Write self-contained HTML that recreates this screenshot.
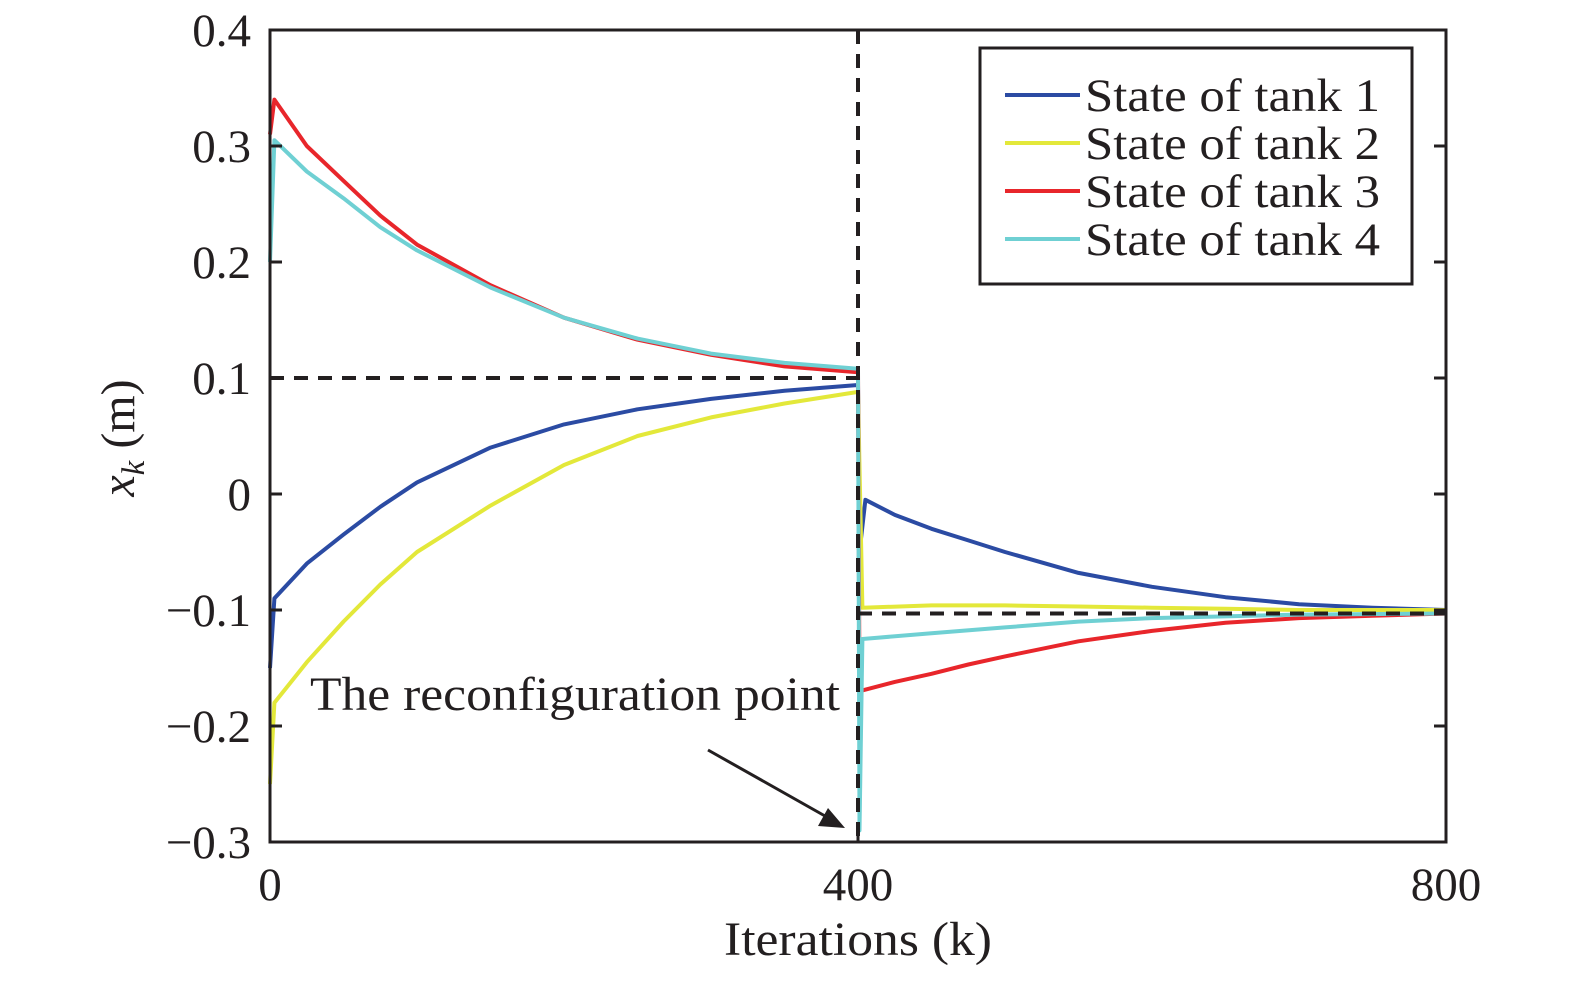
<!DOCTYPE html>
<html><head><meta charset="utf-8"><style>
html,body{margin:0;padding:0;background:#fff;}
svg text{font-family:"Liberation Serif",serif;fill:#231f20;}
</style></head><body>
<svg id="chart" width="1575" height="976" viewBox="0 0 1575 976" xmlns="http://www.w3.org/2000/svg"></svg>
<script>
const xTicks=[0,400,800];
const xTickLabels=["0","400","800"];
const yTicks=[0.4,0.3,0.2,0.1,0,-0.1,-0.2,-0.3];
const yTickLabels=["0.4","0.3","0.2","0.1","0","\u22120.1","\u22120.2","\u22120.3"];
const seriesNames=["State of tank 1","State of tank 2","State of tank 3","State of tank 4"];
const k1=[0,3,25,50,75,100,150,200,250,300,350,400,401,405,425,450,475,500,550,600,650,700,750,800];
const tank1=[-0.15,-0.09,-0.06,-0.035,-0.011,0.01,0.04,0.06,0.073,0.082,0.089,0.094,-0.05,-0.005,-0.018,-0.03,-0.04,-0.05,-0.068,-0.08,-0.089,-0.095,-0.098,-0.1];
const k2=[0,3,25,50,75,100,150,200,250,300,350,400,403,450,500,550,600,650,700,750,800];
const tank2=[-0.25,-0.18,-0.145,-0.11,-0.078,-0.05,-0.01,0.025,0.05,0.066,0.078,0.088,-0.098,-0.096,-0.096,-0.097,-0.098,-0.099,-0.1,-0.1,-0.1];
const k3=[0,3,25,50,75,100,150,200,250,300,350,400,401,425,450,475,500,550,600,650,700,750,800];
const tank3=[0.31,0.34,0.30,0.27,0.24,0.215,0.18,0.152,0.133,0.12,0.11,0.105,-0.17,-0.162,-0.155,-0.147,-0.14,-0.127,-0.118,-0.111,-0.107,-0.105,-0.103];
const k4=[0,3,25,50,75,100,150,200,250,300,350,400,401,403,450,500,550,600,700,800];
const tank4=[0.2,0.305,0.278,0.255,0.23,0.21,0.178,0.152,0.134,0.121,0.113,0.108,-0.29,-0.125,-0.12,-0.115,-0.11,-0.107,-0.104,-0.103];
const colors=["#2b4ba3","#e3e83a","#e8262b","#6fd0d3"];
const refBefore=0.1, refAfter=-0.103, reconfigK=400;

const X0=270,X1=1446,Y0=30,Y1=842;
const sx=k=>X0+(k-0)/(800-0)*(X1-X0);
const sy=v=>Y1-(v-(-0.3))/(0.4-(-0.3))*(Y1-Y0);
const svg=document.getElementById('chart');
const NS="http://www.w3.org/2000/svg";
function mk(tag,attrs){const e=document.createElementNS(NS,tag);for(const a in attrs)e.setAttribute(a,attrs[a]);svg.appendChild(e);return e;}

const allK=[k1,k2,k3,k4],allV=[tank1,tank2,tank3,tank4];
allK.forEach((ks,i)=>{
  const d=ks.map((k,j)=>(j?'L':'M')+sx(k).toFixed(1)+','+sy(allV[i][j]).toFixed(1)).join(' ');
  const p=mk('path',{d:d,fill:'none',stroke:colors[i],'stroke-width':4,'stroke-linejoin':'round'});
  
  
});
let l=mk('line',{x1:sx(0),y1:sy(refBefore),x2:sx(reconfigK),y2:sy(refBefore),stroke:'#231f20','stroke-width':4,'stroke-dasharray':'14,10'});


l=mk('line',{x1:sx(reconfigK),y1:sy(refAfter),x2:sx(800),y2:sy(refAfter),stroke:'#231f20','stroke-width':4,'stroke-dasharray':'14,10'});


l=mk('line',{x1:sx(reconfigK),y1:Y0,x2:sx(reconfigK),y2:Y1,stroke:'#231f20','stroke-width':4,'stroke-dasharray':'14,10'});



let f=mk('rect',{x:X0,y:Y0,width:X1-X0,height:Y1-Y0,fill:'none',stroke:'#231f20','stroke-width':3});


xTicks.forEach((t,i)=>{
  const x=sx(t);
  mk('line',{x1:x,y1:Y1,x2:x,y2:Y1-12,stroke:'#231f20','stroke-width':3});
  mk('line',{x1:x,y1:Y0,x2:x,y2:Y0+12,stroke:'#231f20','stroke-width':3});
  const tx=mk('text',{x:x,y:900,'font-size':47,'text-anchor':'middle'});
  tx.textContent=xTickLabels[i];
  
  
});
yTicks.forEach((t,i)=>{
  const y=sy(t);
  mk('line',{x1:X0,y1:y,x2:X0+12,y2:y,stroke:'#231f20','stroke-width':3});
  mk('line',{x1:X1,y1:y,x2:X1-12,y2:y,stroke:'#231f20','stroke-width':3});
  const tx=mk('text',{x:251,y:y+16,'font-size':47,'text-anchor':'end'});
  tx.textContent=yTickLabels[i];
  
  
});
let t=mk('text',{x:724,y:955,'font-size':48,textLength:268,lengthAdjust:'spacingAndGlyphs'});
t.textContent='Iterations (k)';


t=mk('text',{x:0,y:0,'font-size':48,'text-anchor':'middle',transform:'translate(134,438) rotate(-90)'});
t.innerHTML='<tspan font-style="italic">x</tspan><tspan font-style="italic" font-size="33" dy="10">k</tspan><tspan dy="-10"> (m)</tspan>';



t=mk('text',{x:310,y:710,'font-size':48,textLength:530,lengthAdjust:'spacingAndGlyphs'});
t.textContent='The reconfiguration point';


let a=mk('line',{x1:708,y1:750,x2:825,y2:816,stroke:'#231f20','stroke-width':3});


a=mk('polygon',{points:'845,828 818,826 828,808',fill:'#231f20'});



const lg=mk('rect',{x:980,y:48,width:432,height:236,fill:'#fff',stroke:'#231f20','stroke-width':3});


seriesNames.forEach((n,i)=>{
  const y=92+i*48;
  const ln=mk('line',{x1:1005,y1:y+3,x2:1080,y2:y+3,stroke:colors[i],'stroke-width':4});
  
  
  const tx=mk('text',{x:1085,y:y+19,'font-size':47,textLength:295,lengthAdjust:'spacingAndGlyphs'});
  tx.textContent=n;
  
  
});
</script>
</body></html>
